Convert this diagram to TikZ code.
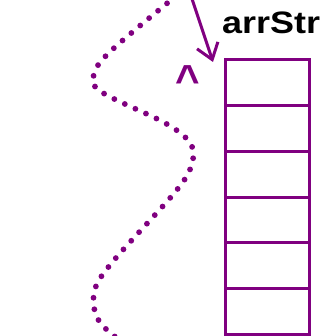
\documentclass[tikz,border=0pt]{standalone}
\usepackage{fontspec}
\setmainfont{Liberation Sans}
\usepackage{tikz}
\usetikzlibrary{positioning,arrows.meta,calc}
\definecolor{arrpurple}{RGB}{128,0,128}
\tikzset{
  cellbox/.style={draw=arrpurple, line width=3pt, minimum width=84pt,
    minimum height=45.67pt, inner sep=0pt, outer sep=0pt},
  ptrarrow/.style={draw=arrpurple, line width=3pt,
    -{Straight Barb[length=15pt, width=22pt, line width=3pt]}},
  walkline/.style={draw=arrpurple, line width=5.8pt, line cap=round,
    dash pattern=on 0pt off 11.6pt},
  namelabel/.style={font=\fontsize{31}{31}\selectfont\bfseries, inner sep=0pt},
}

\begin{document}
\begin{tikzpicture}[x=1pt, y=-1pt]
  \useasboundingbox (0,0) rectangle (323,336);
  % the array
  \foreach \i in {1,...,6}{
    \node[cellbox] (cell\i) at (267, {60+45.67*(\i-0.5)}) {};
  }
  \node[namelabel, anchor=base west] (arrname) at (222,34) {\scalebox{1.16}[1]{arrStr}};
  \node[namelabel, text=arrpurple, font=\fontsize{42}{42}\selectfont\bfseries] (caret) at (187.5,80) {\textasciicircum};
  % pointer into the array
  \coordinate (ptrfrom) at (191,-4);
  \coordinate (ptrto) at ($(cell1.north west)+(-12,2)$);
  \draw[ptrarrow] (ptrfrom) -- (ptrto);
  % dotted path
  \draw[walkline] plot[smooth, tension=0.6] coordinates {
    (176,-4) (113,49) (95,72) (100,91) (165,123) (190,143) (192,163)
    (176,191) (110,265) (94,294) (99,321) (122,342)};
\end{tikzpicture}
\end{document}
